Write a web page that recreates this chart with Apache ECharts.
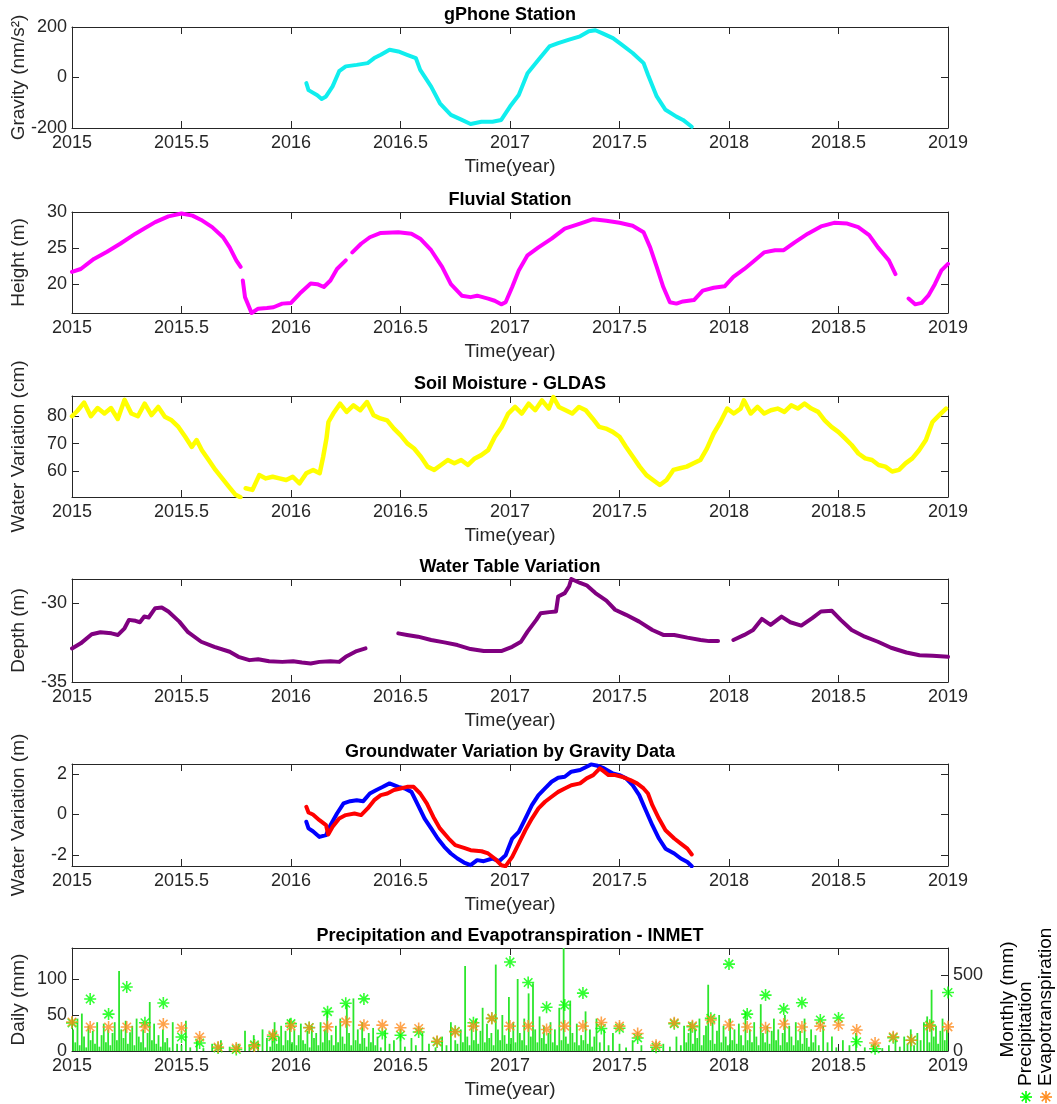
<!DOCTYPE html>
<html>
<head>
<meta charset="utf-8">
<script src="https://cdn.jsdelivr.net/npm/echarts@6/dist/echarts.min.js"></script>
<style>html,body{margin:0;padding:0;background:#fff}#chart{width:1057px;height:1104px}</style>
</head>
<body>
<div id="chart"></div>
<script>
// ---------------- DATA ----------------
const xTickValues = [2015, 2015.5, 2016, 2016.5, 2017, 2017.5, 2018, 2018.5, 2019];
const titles = ['gPhone Station', 'Fluvial Station', 'Soil Moisture - GLDAS', 'Water Table Variation', 'Groundwater Variation by Gravity Data', 'Precipitation and Evapotranspiration - INMET'];
const yNames = ['Gravity (nm/s²)', 'Height (m)', 'Water Variation (cm)', 'Depth (m)', 'Water Variation (m)', 'Daily (mm)'];
const yTicks = [[-200, 0, 200], [20, 25, 30], [60, 70, 80], [-35, -30], [-2, 0, 2], [0, 50, 100]];
const monthlyTicks = [0, 500];

const gphoneT = [2016.07,2016.08,2016.12,2016.14,2016.16,2016.19,2016.22,2016.25,2016.30,2016.35,2016.38,2016.41,2016.45,2016.49,2016.53,2016.57,2016.59,2016.64,2016.68,2016.73,2016.78,2016.82,2016.87,2016.92,2016.96,2017.00,2017.04,2017.08,2017.13,2017.18,2017.22,2017.27,2017.32,2017.36,2017.39,2017.42,2017.47,2017.51,2017.56,2017.61,2017.63,2017.67,2017.71,2017.76,2017.79,2017.83];
const gphoneV = [-22,-50,-70,-85,-75,-35,25,44,50,57,77,90,110,103,90,77,30,-36,-102,-148,-168,-184,-175,-175,-168,-115,-69,17,70,123,136,150,163,183,187,176,156,130,97,57,11,-75,-128,-155,-168,-195];

const fluvialT = [2015.00,2015.04,2015.10,2015.16,2015.22,2015.29,2015.33,2015.38,2015.44,2015.50,2015.55,2015.59,2015.64,2015.69,2015.72,2015.75,2015.77,2015.775,2015.78,2015.79,2015.82,2015.85,2015.89,2015.92,2015.96,2016.00,2016.04,2016.09,2016.12,2016.15,2016.18,2016.21,2016.25,2016.265,2016.28,2016.32,2016.36,2016.41,2016.49,2016.55,2016.59,2016.64,2016.69,2016.73,2016.78,2016.82,2016.85,2016.90,2016.93,2016.96,2016.98,2017.01,2017.04,2017.08,2017.13,2017.19,2017.25,2017.32,2017.38,2017.44,2017.50,2017.56,2017.61,2017.64,2017.67,2017.70,2017.73,2017.76,2017.79,2017.84,2017.88,2017.93,2017.98,2018.02,2018.07,2018.11,2018.16,2018.21,2018.25,2018.30,2018.36,2018.42,2018.48,2018.54,2018.59,2018.64,2018.68,2018.73,2018.76,2018.79,2018.82,2018.85,2018.88,2018.91,2018.94,2018.97,2019.00];
const fluvialV = [21.7,22.1,23.5,24.5,25.6,27.0,27.7,28.6,29.4,29.8,29.5,28.9,27.9,26.5,25.1,23.3,22.4,null,20.5,18.2,16.0,16.6,16.7,16.8,17.3,17.4,18.7,20.1,20.0,19.6,20.5,22.1,23.3,null,24.4,25.6,26.5,27.1,27.2,27.0,26.3,24.7,22.4,20.0,18.4,18.2,18.4,18.0,17.7,17.2,17.5,19.6,21.9,24.0,25.1,26.3,27.7,28.4,29.0,28.8,28.5,28.1,27.2,25.1,22.4,19.6,17.5,17.3,17.6,17.8,19.1,19.5,19.7,21.0,22.1,23.1,24.4,24.7,24.7,25.8,27.0,28.0,28.5,28.4,27.9,26.8,25.1,23.3,21.4,null,18.0,17.2,17.4,18.4,20.0,21.9,22.8];

const soilT = [2015.000,2015.025,2015.055,2015.086,2015.117,2015.148,2015.178,2015.209,2015.240,2015.271,2015.301,2015.332,2015.363,2015.394,2015.424,2015.455,2015.486,2015.517,2015.547,2015.569,2015.593,2015.624,2015.655,2015.686,2015.716,2015.747,2015.769,2015.780,2015.793,2015.824,2015.855,2015.885,2015.916,2015.947,2015.978,2016.008,2016.039,2016.070,2016.101,2016.131,2016.147,2016.162,2016.171,2016.193,2016.224,2016.254,2016.285,2016.316,2016.347,2016.377,2016.408,2016.439,2016.470,2016.500,2016.531,2016.562,2016.593,2016.623,2016.654,2016.685,2016.716,2016.746,2016.777,2016.808,2016.839,2016.869,2016.900,2016.931,2016.962,2016.992,2017.023,2017.054,2017.085,2017.115,2017.146,2017.177,2017.198,2017.223,2017.254,2017.284,2017.315,2017.346,2017.377,2017.407,2017.438,2017.469,2017.500,2017.530,2017.561,2017.592,2017.623,2017.653,2017.684,2017.715,2017.746,2017.776,2017.807,2017.838,2017.869,2017.899,2017.930,2017.961,2017.992,2018.022,2018.053,2018.068,2018.099,2018.130,2018.161,2018.191,2018.222,2018.253,2018.284,2018.314,2018.345,2018.376,2018.407,2018.437,2018.468,2018.499,2018.530,2018.560,2018.591,2018.622,2018.653,2018.683,2018.714,2018.745,2018.776,2018.806,2018.837,2018.868,2018.899,2018.929,2018.960,2018.991];
const soilV = [80,82,85,80,83,81,83,79,86,81,80,84.6,80.4,83.4,79.8,78.5,76.1,72.5,68.8,71.3,67.6,64.0,60.4,57.3,54.3,51.3,50.4,null,53.7,53.1,58.5,57.3,57.9,57.3,56.7,57.9,55.5,59.2,60.4,59.2,65.2,71.9,77.9,81,84.6,81.6,84,82.2,85.2,80.4,79.2,78.5,75.5,73.1,70.1,68.2,65.2,61.6,60.4,62.2,64.0,62.8,64.0,62.2,64.6,65.8,67.6,72.5,76.1,81,83.4,81,84.6,82.2,85.8,82.8,87,83.4,82.2,81,83.4,82.2,79.2,76.1,75.5,74.3,72.5,68.8,65.2,61.6,58.5,56.7,54.9,56.7,60.4,61.0,61.6,62.8,64.0,68.2,73.7,77.9,82.8,81,82.8,85.8,81,83.4,81,82.2,82.8,81.6,84,82.8,84.6,82.8,81.6,78.5,76.1,74.3,71.9,69.5,66.4,64.6,64.0,62.2,61.6,59.8,60.4,62.8,64.6,67.6,71.3,77.9,80.4,82.8];

const tableT = [2015.00,2015.04,2015.09,2015.13,2015.18,2015.21,2015.24,2015.26,2015.29,2015.31,2015.33,2015.35,2015.38,2015.41,2015.44,2015.49,2015.53,2015.59,2015.65,2015.72,2015.76,2015.81,2015.85,2015.90,2015.96,2016.01,2016.05,2016.09,2016.13,2016.18,2016.22,2016.25,2016.30,2016.34,2016.40,2016.49,2016.53,2016.58,2016.64,2016.70,2016.76,2016.82,2016.88,2016.96,2017.01,2017.05,2017.08,2017.12,2017.14,2017.18,2017.21,2017.22,2017.25,2017.27,2017.28,2017.32,2017.35,2017.39,2017.44,2017.48,2017.53,2017.59,2017.65,2017.70,2017.75,2017.81,2017.87,2017.91,2017.95,2017.98,2018.02,2018.07,2018.11,2018.15,2018.19,2018.24,2018.28,2018.33,2018.38,2018.42,2018.47,2018.51,2018.56,2018.62,2018.68,2018.74,2018.81,2018.87,2018.93,2019.00];
const tableV = [-32.88,-32.56,-31.99,-31.86,-31.93,-32.03,-31.61,-31.08,-31.14,-31.23,-30.87,-30.93,-30.34,-30.30,-30.55,-31.19,-31.86,-32.46,-32.78,-33.09,-33.41,-33.62,-33.56,-33.69,-33.73,-33.69,-33.77,-33.83,-33.73,-33.69,-33.73,-33.41,-33.05,-32.88,null,-31.93,-32.03,-32.14,-32.35,-32.50,-32.67,-32.92,-33.05,-33.05,-32.78,-32.46,-31.82,-31.08,-30.66,-30.59,-30.55,-29.60,-29.39,-28.96,-28.50,-28.75,-28.90,-29.39,-29.87,-30.44,-30.76,-31.19,-31.72,-32.03,-32.03,-32.20,-32.35,-32.42,-32.42,null,-32.35,-32.03,-31.72,-31.02,-31.40,-30.87,-31.23,-31.44,-30.97,-30.55,-30.51,-31.08,-31.72,-32.14,-32.46,-32.84,-33.14,-33.31,-33.35,-33.41];

const gwBlueT = [2016.07,2016.08,2016.10,2016.13,2016.16,2016.18,2016.21,2016.24,2016.27,2016.30,2016.33,2016.36,2016.39,2016.42,2016.45,2016.49,2016.52,2016.55,2016.58,2016.61,2016.64,2016.67,2016.70,2016.73,2016.76,2016.79,2016.82,2016.85,2016.88,2016.92,2016.95,2016.98,2017.01,2017.04,2017.07,2017.10,2017.13,2017.16,2017.19,2017.22,2017.25,2017.28,2017.32,2017.35,2017.37,2017.40,2017.43,2017.47,2017.50,2017.53,2017.56,2017.59,2017.62,2017.65,2017.68,2017.71,2017.75,2017.78,2017.81,2017.83];
const gwBlueV = [-0.36,-0.69,-0.83,-1.11,-1.02,-0.53,0.05,0.55,0.66,0.71,0.66,1.04,1.21,1.37,1.54,1.37,1.29,1.12,0.46,-0.20,-0.69,-1.19,-1.60,-1.93,-2.18,-2.38,-2.51,-2.26,-2.31,-2.18,-2.31,-2.02,-1.19,-0.86,-0.20,0.46,0.96,1.29,1.62,1.82,1.87,2.12,2.20,2.36,2.48,2.41,2.28,2.03,1.95,1.79,1.45,0.96,0.21,-0.53,-1.19,-1.69,-1.93,-2.18,-2.35,-2.56];
const gwRedT = [2016.07,2016.08,2016.10,2016.13,2016.16,2016.17,2016.19,2016.22,2016.25,2016.29,2016.32,2016.35,2016.38,2016.41,2016.44,2016.47,2016.50,2016.53,2016.56,2016.59,2016.62,2016.65,2016.68,2016.72,2016.75,2016.79,2016.82,2016.87,2016.90,2016.93,2016.96,2016.98,2017.01,2017.04,2017.07,2017.10,2017.13,2017.16,2017.19,2017.22,2017.25,2017.28,2017.32,2017.35,2017.38,2017.41,2017.43,2017.45,2017.48,2017.51,2017.55,2017.58,2017.61,2017.63,2017.65,2017.68,2017.71,2017.75,2017.78,2017.81,2017.83];
const gwRedV = [0.38,0.10,0.00,-0.28,-0.53,-0.99,-0.61,-0.20,-0.03,0.05,-0.03,0.30,0.71,0.96,1.04,1.21,1.29,1.37,1.37,1.04,0.55,-0.12,-0.69,-1.19,-1.52,-1.65,-1.77,-1.82,-1.93,-2.18,-2.51,-2.56,-2.10,-1.44,-0.78,-0.20,0.30,0.63,0.88,1.12,1.29,1.45,1.54,1.79,1.95,2.28,2.12,1.95,1.95,1.87,1.70,1.54,1.29,1.04,0.46,-0.20,-0.78,-1.19,-1.44,-1.69,-1.98];

const dailyT = [2015.005,2015.015,2015.025,2015.035,2015.045,2015.055,2015.065,2015.075,2015.085,2015.095,2015.105,2015.115,2015.125,2015.135,2015.145,2015.155,2015.165,2015.175,2015.185,2015.195,2015.205,2015.215,2015.225,2015.235,2015.245,2015.255,2015.265,2015.275,2015.285,2015.295,2015.305,2015.315,2015.325,2015.335,2015.345,2015.355,2015.365,2015.375,2015.385,2015.395,2015.405,2015.415,2015.425,2015.435,2015.445,2015.46,2015.48,2015.50,2015.52,2015.54,2015.57,2015.60,2015.64,2015.68,2015.72,2015.76,2015.79,2015.81,2015.83,2015.85,2015.87,2015.89,2015.905,2015.915,2015.925,2015.935,2015.945,2015.955,2015.965,2015.975,2015.985,2015.995,2016.005,2016.015,2016.025,2016.035,2016.045,2016.055,2016.065,2016.075,2016.085,2016.095,2016.105,2016.115,2016.125,2016.135,2016.145,2016.155,2016.165,2016.175,2016.185,2016.195,2016.205,2016.215,2016.225,2016.235,2016.245,2016.255,2016.265,2016.275,2016.285,2016.295,2016.305,2016.315,2016.325,2016.335,2016.345,2016.355,2016.365,2016.375,2016.385,2016.395,2016.41,2016.43,2016.45,2016.47,2016.50,2016.52,2016.55,2016.57,2016.60,2016.63,2016.66,2016.69,2016.71,2016.73,2016.75,2016.76,2016.775,2016.785,2016.795,2016.805,2016.815,2016.825,2016.835,2016.845,2016.855,2016.865,2016.875,2016.885,2016.895,2016.905,2016.915,2016.925,2016.935,2016.945,2016.955,2016.965,2016.975,2016.985,2016.995,2017.005,2017.015,2017.025,2017.035,2017.045,2017.055,2017.065,2017.075,2017.085,2017.095,2017.105,2017.115,2017.125,2017.135,2017.145,2017.155,2017.165,2017.175,2017.185,2017.195,2017.205,2017.215,2017.225,2017.235,2017.245,2017.255,2017.265,2017.275,2017.285,2017.295,2017.305,2017.315,2017.325,2017.335,2017.345,2017.355,2017.365,2017.375,2017.385,2017.395,2017.41,2017.43,2017.45,2017.47,2017.50,2017.53,2017.56,2017.60,2017.65,2017.70,2017.73,2017.76,2017.78,2017.795,2017.805,2017.815,2017.825,2017.835,2017.845,2017.855,2017.865,2017.875,2017.885,2017.895,2017.905,2017.915,2017.925,2017.935,2017.945,2017.955,2017.965,2017.975,2017.985,2017.995,2018.005,2018.015,2018.025,2018.035,2018.045,2018.055,2018.065,2018.075,2018.085,2018.095,2018.105,2018.115,2018.125,2018.135,2018.145,2018.155,2018.165,2018.175,2018.185,2018.195,2018.205,2018.215,2018.225,2018.235,2018.245,2018.255,2018.265,2018.275,2018.285,2018.295,2018.305,2018.315,2018.325,2018.335,2018.345,2018.355,2018.365,2018.375,2018.385,2018.395,2018.41,2018.43,2018.45,2018.47,2018.49,2018.52,2018.55,2018.58,2018.62,2018.66,2018.70,2018.73,2018.76,2018.78,2018.80,2018.815,2018.83,2018.845,2018.86,2018.875,2018.89,2018.905,2018.915,2018.925,2018.935,2018.945,2018.955,2018.965,2018.975,2018.985,2018.995];
const dailyV = [30,12,45,8,52,20,5,35,15,28,10,40,6,22,38,12,30,8,25,40,15,111,30,18,42,10,26,35,8,45,20,12,30,5,25,68,15,38,10,22,6,30,12,18,5,40,10,8,42,5,14,4,10,15,6,10,28,8,22,12,30,18,6,25,40,10,20,35,8,28,15,45,12,30,8,22,38,15,10,28,5,35,18,25,8,40,12,30,55,15,22,8,35,12,45,20,10,65,25,8,73,15,30,10,40,18,6,25,12,32,8,20,5,28,10,15,30,6,18,8,25,10,5,20,8,40,15,10,30,12,118,20,8,35,15,45,10,28,60,12,38,18,25,8,120,30,15,50,22,10,75,18,40,12,100,25,15,45,8,80,20,94,30,12,48,18,35,10,25,40,12,30,8,60,15,143,20,10,70,25,12,38,8,22,15,55,10,30,6,20,45,12,30,8,25,10,5,15,8,4,10,6,20,8,35,12,25,40,10,30,18,45,8,22,35,92,15,40,10,28,50,12,35,20,8,45,15,30,10,38,22,8,55,15,30,12,40,20,8,65,25,12,35,10,28,45,15,30,8,25,50,12,35,20,8,40,15,28,10,45,18,6,30,12,22,8,35,12,20,5,15,8,25,5,10,4,8,15,6,20,10,30,8,25,15,40,48,12,85,20,35,10,28,45,15,30];

const monthT = [2015.000,2015.083,2015.167,2015.250,2015.333,2015.417,2015.500,2015.583,2015.667,2015.750,2015.833,2015.917,2016.000,2016.083,2016.167,2016.250,2016.333,2016.417,2016.500,2016.583,2016.667,2016.750,2016.833,2016.917,2017.000,2017.083,2017.167,2017.250,2017.333,2017.417,2017.500,2017.583,2017.667,2017.750,2017.833,2017.917,2018.000,2018.083,2018.167,2018.250,2018.333,2018.417,2018.500,2018.583,2018.667,2018.750,2018.833,2018.917,2019.000];
const monthPrecip = [185,342,243,421,186,316,92,53,20,10,40,95,180,155,259,314,343,115,104,125,60,130,186,215,586,451,288,303,381,148,150,86,25,180,160,215,572,243,368,276,318,204,217,61,15,88,71,170,385];
const monthET = [191,158,158,158,158,178,151,92,26,20,33,105,164,153,159,192,170,170,153,148,64,126,164,215,164,164,142,164,164,188,164,115,38,186,166,204,171,158,153,178,158,164,171,138,53,94,71,164,159];

// ---------------- LAYOUT / STYLE ----------------
const FONT = '"Liberation Sans", Arial, Helvetica, sans-serif';
const AX = '#262626';
const panelLayout = [
  {top: 27, h: 101, min: -200, max: 200},
  {top: 212, h: 101, min: 16, max: 30},
  {top: 396, h: 101, min: 50.5, max: 87.4},
  {top: 579, h: 103, min: -35, max: -28.5},
  {top: 764, h: 102, min: -2.55, max: 2.5},
  {top: 948, h: 103, min: 0, max: 143}
];
const monthlyRange = {min: 0, max: 678};

const pairs = (T, V) => T.map((t, i) => [t, V[i] === null ? '-' : V[i]]);
const fmt = v => String(v);

const grids = [], xAxes = [], yAxes = [], series = [];
panelLayout.forEach((p, i) => {
  grids.push({left: 72, width: 876, top: p.top, height: p.h, containLabel: false});
  const line = {show: true, onZero: false, lineStyle: {color: AX, width: 1}};
  const tick = vals => ({show: true, inside: true, length: 7, lineStyle: {color: AX, width: 1}, customValues: vals});
  xAxes.push({
    gridIndex: i, type: 'value', position: 'bottom', min: 2015, max: 2019,
    axisLine: line, axisTick: tick(xTickValues), splitLine: {show: false},
    axisLabel: {show: true, customValues: xTickValues, formatter: fmt, fontSize: 18, color: AX, margin: 6, fontFamily: FONT},
    name: 'Time(year)', nameLocation: 'middle', nameGap: 29, nameMoveOverlap: false,
    nameTextStyle: {fontSize: 19, color: AX, fontFamily: FONT}
  });
  xAxes.push({
    gridIndex: i, type: 'value', position: 'top', min: 2015, max: 2019,
    axisLine: line, axisTick: tick(xTickValues), splitLine: {show: false},
    axisLabel: {show: false},
    name: titles[i], nameLocation: 'middle', nameGap: 3, nameMoveOverlap: false,
    nameTextStyle: {fontSize: 18, fontWeight: 'bold', color: '#000', fontFamily: FONT}
  });
  yAxes.push({
    gridIndex: i, type: 'value', position: 'left', min: p.min, max: p.max,
    axisLine: line, axisTick: tick(yTicks[i]), splitLine: {show: false},
    axisLabel: {show: true, customValues: yTicks[i], formatter: fmt, fontSize: 18, color: AX, margin: 5, fontFamily: FONT},
    name: yNames[i], nameLocation: 'middle', nameGap: 44, nameMoveOverlap: false,
    nameTextStyle: {fontSize: 19, color: AX, fontFamily: FONT}
  });
  if (i < 5) {
    yAxes.push({
      gridIndex: i, type: 'value', position: 'right', min: p.min, max: p.max,
      axisLine: line, axisTick: tick(yTicks[i]), splitLine: {show: false}, axisLabel: {show: false}
    });
  } else {
    yAxes.push({
      gridIndex: i, type: 'value', position: 'right', min: monthlyRange.min, max: monthlyRange.max,
      axisLine: line, axisTick: tick(monthlyTicks), splitLine: {show: false},
      axisLabel: {show: true, customValues: monthlyTicks, formatter: fmt, fontSize: 18, color: AX, margin: 5, fontFamily: FONT},
      name: 'Monthly (mm)', nameLocation: 'middle', nameGap: 50, nameMoveOverlap: false,
      nameTextStyle: {fontSize: 19, color: '#000', fontFamily: FONT}
    });
  }
});

const lineSeries = (name, T, V, panel, color, width) => ({
  name, type: 'line', xAxisIndex: 2 * panel, yAxisIndex: 2 * panel,
  data: pairs(T, V), showSymbol: false, symbol: 'none', connectNulls: false,
  lineStyle: {color, width, cap: 'round', join: 'round'}, silent: true
});

series.push(lineSeries('gPhone', gphoneT, gphoneV, 0, '#10EEEE', 4));
series.push(lineSeries('Fluvial', fluvialT, fluvialV, 1, '#FF00FF', 4));
series.push(lineSeries('Soil', soilT, soilV, 2, '#FFFF00', 4.5));
series.push(lineSeries('WaterTable', tableT, tableV, 3, '#800080', 4));
series.push(lineSeries('GW gravity', gwBlueT, gwBlueV, 4, '#0000FF', 4));
series.push(lineSeries('GW model', gwRedT, gwRedV, 4, '#FF0000', 4));

series.push({
  name: 'Daily', type: 'bar', xAxisIndex: 10, yAxisIndex: 10,
  data: pairs(dailyT, dailyV), barWidth: 1.8, itemStyle: {color: '#2CE62C'}, silent: true
});
const ASTER = 'path://M0,-10L0,10M-10,0L10,0M-7.07,-7.07L7.07,7.07M-7.07,7.07L7.07,-7.07';
series.push({
  name: 'Precipitation', type: 'scatter', xAxisIndex: 10, yAxisIndex: 11,
  data: pairs(monthT, monthPrecip), symbol: ASTER, symbolSize: 12,
  itemStyle: {color: 'rgba(0,0,0,0)', borderColor: '#00FF00', borderWidth: 1.6}, silent: true
});
series.push({
  name: 'Evapotranspiration', type: 'scatter', xAxisIndex: 10, yAxisIndex: 11,
  data: pairs(monthT, monthET), symbol: ASTER, symbolSize: 12,
  itemStyle: {color: 'rgba(0,0,0,0)', borderColor: '#FF8C1E', borderWidth: 1.6}, silent: true
});

// rotated legend (text + asterisk markers)
const asterLines = (cx, cy, color) => {
  const r = 6, d = 4.24;
  return [[0, -r, 0, r], [-r, 0, r, 0], [-d, -d, d, d], [-d, d, d, -d]].map(s => ({
    type: 'line', x: cx, y: cy, shape: {x1: s[0], y1: s[1], x2: s[2], y2: s[3]},
    style: {stroke: color, lineWidth: 1.6}, silent: true
  }));
};
const graphic = [
  {type: 'text', x: 1026, y: 1086, rotation: Math.PI / 2,
   style: {text: 'Precipitation', fontSize: 19, fill: '#000', fontFamily: FONT, textAlign: 'left', textVerticalAlign: 'middle'}},
  {type: 'text', x: 1046, y: 1086, rotation: Math.PI / 2,
   style: {text: 'Evapotranspiration', fontSize: 19, fill: '#000', fontFamily: FONT, textAlign: 'left', textVerticalAlign: 'middle'}}
].concat(asterLines(1026, 1097, '#00FF00'), asterLines(1046, 1097, '#FF8C1E'));

const chart = echarts.init(document.getElementById('chart'), null, {renderer: 'canvas'});
chart.setOption({
  animation: false,
  backgroundColor: '#fff',
  textStyle: {fontFamily: FONT},
  grid: grids, xAxis: xAxes, yAxis: yAxes, series, graphic
});
</script>
</body>
</html>
